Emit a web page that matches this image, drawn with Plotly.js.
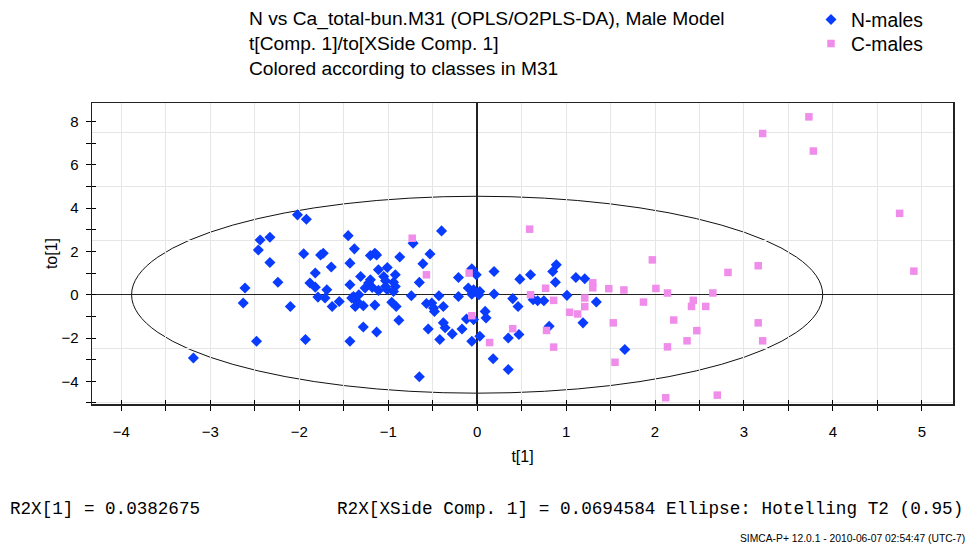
<!DOCTYPE html>
<html>
<head>
<meta charset="utf-8">
<script src="https://cdn.plot.ly/plotly-3.0.1.min.js"></script>
<style>
html,body{margin:0;padding:0;background:#fff;}
#chart{width:972px;height:550px;}
</style>
</head>
<body>
<div id="chart"></div>
<script>
// N-males (t[1], to[1])
const nX = [-3.19,-2.61,-2.63,-2.48,-2.44,-2.33,-2.46,-2.33,-2.24,-2.10,-2.02,-1.92,-1.95,-1.76,-1.73,-1.64,-1.82,-1.88,-1.82,-1.69,-1.79,-1.71,-1.63,-1.55,-1.93,
  -1.45,-1.38,-1.20,-1.15,-1.13,-0.87,-0.53,-1.43,-0.61,-1.11,-1.01,-0.92,-1.31,-1.20,-1.22,-1.05,-1.03,-0.94,-0.65,-1.43,-1.26,-1.18,-1.03,-1.01,-0.92,-1.11,-0.94,
  -0.72,-0.40,-0.21,-0.06,-0.01,-0.10,-0.04,0.03,-0.06,0.02,-0.74,-0.43,-0.21,
  -1.39,-1.33,-1.35,-1.37,-1.41,-1.28,-1.15,-0.96,-0.91,-0.57,-0.51,-0.49,-0.48,-0.38,-0.12,-0.04,0.09,0.10,-0.38,-0.36,-0.28,-0.17,-0.55,-0.42,-0.06,0.03,
  -0.88,-1.28,-1.13,-1.43,-0.65,
  0.19,0.48,0.60,0.89,0.85,0.88,1.11,1.21,0.19,0.40,0.46,0.63,0.68,0.75,1.01,1.34,1.19,0.81,0.47,0.35,0.18,0.35,1.66];
const nY = [-2.92,0.31,-0.38,-2.15,2.53,2.66,2.07,1.49,0.58,-0.54,3.69,3.49,1.89,1.84,1.92,1.28,1.00,0.54,0.35,0.23,-0.11,-0.15,-0.54,-0.31,-2.07,
  2.73,2.12,1.81,1.92,1.84,1.74,1.88,1.46,1.43,1.15,1.26,0.92,0.84,0.69,0.54,0.84,0.65,0.58,0.57,0.46,0.31,0.34,0.38,0.23,0.38,0.20,0.15,
  2.38,2.95,0.80,1.20,0.92,0.31,0.23,0.15,0.02,0.00,-0.05,-0.05,-0.08,
  -0.08,0.00,-0.31,-0.54,-0.15,-0.51,-0.48,-0.35,-0.54,-0.41,-0.38,-0.61,-0.77,-0.54,-1.12,-1.15,-0.77,-1.07,-1.30,-1.53,-1.81,-1.58,-1.58,-2.07,-2.15,-1.92,
  -1.18,-1.49,-1.72,-2.15,-3.79,
  1.07,0.72,0.92,1.38,1.07,0.58,0.80,0.74,0.03,-0.18,-0.54,-0.23,-0.28,-0.28,-0.03,-0.34,-1.30,-1.46,-1.84,-2.00,-2.96,-3.46,-2.53];

// C-males (t[1], to[1])
const cX = [-0.73,-0.57,-0.09,-0.06,0.14,0.59,0.77,0.60,0.86,1.30,1.30,1.48,1.65,1.21,1.21,1.04,1.13,1.53,0.40,0.78,0.86,1.55,
  1.97,2.01,2.14,1.87,2.43,2.41,2.57,2.65,2.82,3.16,2.21,3.16,2.47,2.36,3.21,2.14,2.12,2.70,3.21,3.73,3.78,4.75,4.91];
const cY = [2.61,0.92,1.00,-0.97,-2.21,3.03,0.30,0.00,-0.26,0.55,0.32,0.28,0.22,-0.15,-0.55,-0.81,-0.89,-1.30,-1.57,-1.65,-2.42,-3.12,
  1.61,0.29,0.08,-0.34,-0.26,-0.54,-0.54,0.08,1.03,1.34,-1.17,-1.30,-1.66,-2.13,-2.13,-2.41,-4.76,-4.64,7.45,8.22,6.64,3.76,1.09];

const seriesNames = ["N-males", "C-males"];
// Hotelling T2 (0.95) ellipse semi-axes
const ellipseA = 3.885;
const ellipseB = 4.55;

const xRange = [-4.33, 5.35];
const yRange = [-5.05, 8.86];

const titleLines = [
  "N vs Ca_total-bun.M31 (OPLS/O2PLS-DA), Male Model",
  "t[Comp. 1]/to[XSide Comp. 1]",
  "Colored according to classes in M31"
];
const footLeft = "R2X[1] = 0.0382675";
const footMid = "R2X[XSide Comp. 1] = 0.0694584 Ellipse: Hotelling T2 (0.95)";
const stamp = "SIMCA-P+ 12.0.1 - 2010-06-07 02:54:47 (UTC-7)";

const SANS = "Liberation Sans, Arial, sans-serif";
const MONO = "Liberation Mono, monospace";

const traces = [
  {x: [], y: [], type: "scatter", mode: "markers", xaxis: "x2", yaxis: "y2", showlegend: false, hoverinfo: "skip"},
  {x: [], y: [], type: "scatter", mode: "markers", xaxis: "x2", yaxis: "y3", showlegend: false, hoverinfo: "skip"},
  {x: nX, y: nY, type: "scatter", mode: "markers", name: seriesNames[0], legend: "legend",
   marker: {symbol: "diamond", size: 8.5, color: "#0a3cff", line: {width: 0}}},
  {x: cX, y: cY, type: "scatter", mode: "markers", name: seriesNames[1], legend: "legend2",
   marker: {symbol: "square", size: 7.5, color: "#f08cea", line: {width: 0}}}
];

const legendBase = {
  xref: "container", yref: "container",
  x: 811/972, xanchor: "left", yanchor: "middle",
  font: {family: SANS, size: 19.3, color: "#000"},
  bgcolor: "rgba(0,0,0,0)"
};

const gridStyle = {showgrid: true, gridcolor: "#e6e6e6", gridwidth: 1};

const layout = {
  width: 972, height: 550,
  paper_bgcolor: "#fff", plot_bgcolor: "#fff",
  margin: {l: 92, r: 19, t: 103, b: 146, autoexpand: false},
  font: {family: SANS, color: "#000"},
  showlegend: true,
  title: {
    text: titleLines.join("<br>"),
    xref: "container", yref: "container",
    x: 249/972, xanchor: "left",
    y: 1 - 25/550, yanchor: "top",
    font: {family: SANS, size: 19.2, color: "#000"}
  },
  legend: Object.assign({}, legendBase, {y: 1 - 20/550}),
  legend2: Object.assign({}, legendBase, {y: 1 - 44/550}),
  xaxis: Object.assign({
    range: xRange, dtick: 1, tick0: 0,
    ticks: "outside", ticklen: 5, tickcolor: "#000", tickwidth: 1,
    minor: Object.assign({dtick: 0.5, ticks: "outside", ticklen: 5, tickcolor: "#000"}, gridStyle),
    zeroline: true, zerolinecolor: "#222", zerolinewidth: 1.5,
    showline: true, linecolor: "#222", linewidth: 1.5, mirror: true,
    tickfont: {family: SANS, size: 15, color: "#000"},
    ticklabelstandoff: 8,
    title: {text: "t[1]", font: {family: SANS, size: 16, color: "#000"}, standoff: 12}
  }, gridStyle),
  yaxis: {
    range: yRange, dtick: 2, tick0: 0,
    ticks: "outside", ticklen: 5, tickcolor: "#000", tickwidth: 1,
    minor: {dtick: 1, ticks: "outside", ticklen: 5, tickcolor: "#000", showgrid: false},
    showgrid: false,
    zeroline: true, zerolinecolor: "#222", zerolinewidth: 1.5,
    showline: true, linecolor: "#222", linewidth: 1.5, mirror: true,
    tickfont: {family: SANS, size: 15, color: "#000"},
    ticklabelstandoff: 4,
    title: {text: "to[1]", font: {family: SANS, size: 16, color: "#000"}, standoff: 0}
  },
  // inner half of the crossing tick marks on the t[1] axis
  xaxis2: {overlaying: "x", range: xRange, dtick: 0.5, tick0: 0, showticklabels: false,
    ticks: "inside", ticklen: 4, tickcolor: "#000", tickwidth: 1, showgrid: false, zeroline: false, showline: false},
  // horizontal grid every 2.5
  yaxis2: Object.assign({overlaying: "y", range: yRange, dtick: 2.5, tick0: 0, showticklabels: false, ticks: "",
    zeroline: false, showline: false}, gridStyle),
  // inner half of the crossing tick marks on the to[1] axis
  yaxis3: {overlaying: "y", range: yRange, dtick: 1, tick0: 0, showticklabels: false,
    ticks: "inside", ticklen: 4, tickcolor: "#000", tickwidth: 1, showgrid: false, zeroline: false, showline: false},
  shapes: [
    {type: "circle", xref: "x", yref: "y", x0: -ellipseA, x1: ellipseA, y0: -ellipseB, y1: ellipseB,
     line: {color: "#111", width: 1}, layer: "below"}
  ],
  annotations: [
    {text: footLeft, xref: "paper", yref: "paper", x: (8-92)/861, y: (550-146-509)/301, xanchor: "left", yanchor: "middle",
     showarrow: false, font: {family: MONO, size: 17.6, color: "#000"}},
    {text: footMid, xref: "paper", yref: "paper", x: (335-92)/861, y: (550-146-509)/301, xanchor: "left", yanchor: "middle",
     showarrow: false, font: {family: MONO, size: 17.7, color: "#000"}},
    {text: stamp, xref: "paper", yref: "paper", x: (967-92)/861, y: (550-146-538)/301, xanchor: "right", yanchor: "middle",
     showarrow: false, font: {family: SANS, size: 10.3, color: "#000"}}
  ]
};

Plotly.newPlot("chart", traces, layout, {displayModeBar: false, staticPlot: true});
</script>
</body>
</html>
